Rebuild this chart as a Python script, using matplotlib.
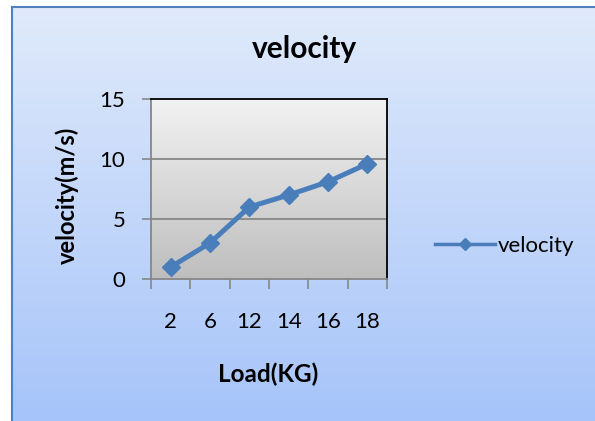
import numpy as np
import matplotlib
matplotlib.use("Agg")
import matplotlib.pyplot as plt
from matplotlib.lines import Line2D
from matplotlib.colors import LinearSegmentedColormap

categories = ["2", "6", "12", "14", "16", "18"]
velocity = [1, 3, 6, 7, 8.1, 9.6]
y_ticks = [0, 5, 10, 15]

plt.rcParams['font.family'] = ['Lato', 'DejaVu Sans']

W, H = 595, 421
fig = plt.figure(figsize=(W / 100, H / 100), dpi=100)
fig.patch.set_facecolor('white')

# background chart area with gradient
bx0, by0 = 12 / W, 0.0
bx1, by1 = 1.0, 1 - 7 / H
bg = fig.add_axes([bx0, by0, bx1 - bx0, by1 - by0], zorder=0)
bg_cmap = LinearSegmentedColormap.from_list('bg', ['#A6C4F9', '#E0EAFB'])
grad = np.linspace(0, 1, 256).reshape(-1, 1)
bg.imshow(grad, cmap=bg_cmap, aspect='auto', extent=[0, 1, 0, 1], origin='lower')
bg.set_xlim(0, 1)
bg.set_ylim(0, 1)
bg.set_xticks([])
bg.set_yticks([])
for s in ['right', 'bottom']:
    bg.spines[s].set_visible(False)
for s in ['left', 'top']:
    bg.spines[s].set_color('#4F81BD')
    bg.spines[s].set_linewidth(1.5)

# plot area
px0, px1 = 151, 387
py0, py1 = 99, 279
ax = fig.add_axes([px0 / W, 1 - py1 / H, (px1 - px0) / W, (py1 - py0) / H], zorder=1)
x = np.arange(len(categories))
ax.set_xlim(-0.5, len(categories) - 0.5)
ax.set_ylim(0, 15)

pa_cmap = LinearSegmentedColormap.from_list('pa', ['#BEBEBE', '#F2F2F2'])
ax.imshow(grad, cmap=pa_cmap, aspect='auto', extent=[-0.5, len(categories) - 0.5, 0, 15],
          origin='lower', zorder=0)

for yv in [5, 10]:
    ax.axhline(yv, color='#868686', lw=1.3, zorder=1)

ax.plot(x, velocity, color='#4A7EBB', lw=3.6, marker='D', markersize=9,
        markerfacecolor='#4A7EBB', markeredgecolor='#4A7EBB', zorder=3)

ax.set_yticks(y_ticks)
ax.set_yticklabels([str(v) for v in y_ticks], fontsize=16)
ax.tick_params(axis='y', length=6.5, width=1.2, color='#868686', pad=12)

ax.set_xticks(np.arange(len(categories) + 1) - 0.5)
ax.set_xticklabels([''] * (len(categories) + 1))
ax.tick_params(axis='x', which='major', length=7, width=1.2, color='#868686')
ax.set_xticks(x, minor=True)
ax.set_xticklabels(categories, minor=True, fontsize=16)
ax.tick_params(axis='x', which='minor', length=0, pad=24)

for s in ['left', 'bottom']:
    ax.spines[s].set_color('#868686')
    ax.spines[s].set_linewidth(1.3)
for s in ['top', 'right']:
    ax.spines[s].set_color('black')
    ax.spines[s].set_linewidth(1.3)

fig.text(304 / W, 1 - 58 / H, 'velocity', ha='center', va='baseline',
         fontsize=21.5, fontweight='bold')
fig.text(75 / W, 1 - 195 / H, 'velocity(m/s)', ha='center', va='baseline',
         rotation=90, rotation_mode='anchor', fontsize=17, fontweight='bold')
fig.text(268 / W, 1 - 382 / H, 'Load(KG)', ha='center', va='baseline',
         fontsize=17.5, fontweight='bold')

handle = Line2D([], [], color='#4A7EBB', lw=2.5, marker='D', markersize=6,
                markerfacecolor='#4A7EBB', markeredgecolor='#4A7EBB')
fig.legend([handle], ['velocity'], loc='center left', bbox_to_anchor=(424 / W, 1 - 246 / H),
           frameon=False, fontsize=16, handlelength=2.7, handletextpad=0.1, borderpad=0)

fig.savefig('out.png', dpi=100, facecolor='white')
